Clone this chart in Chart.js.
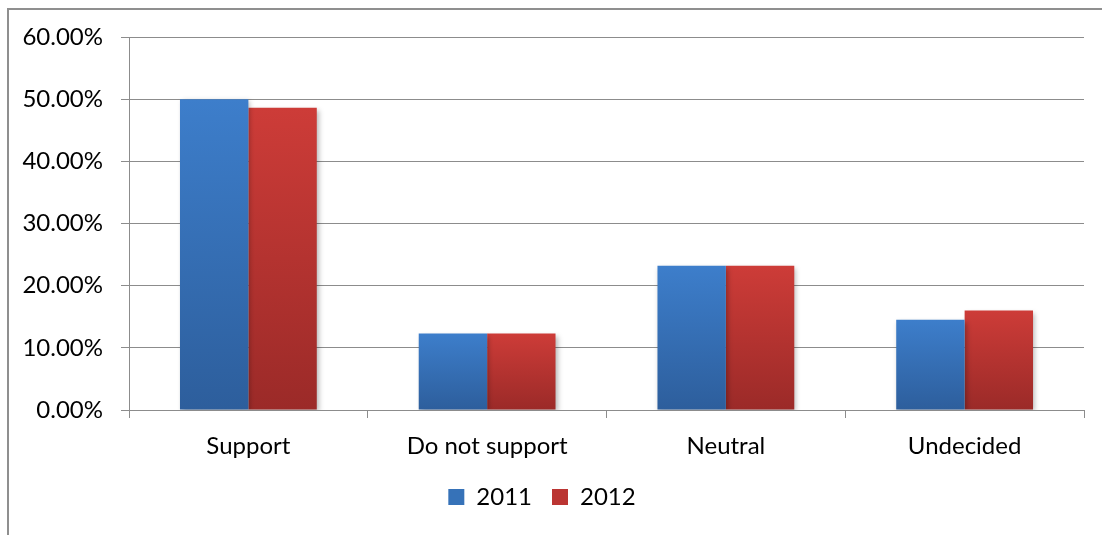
<!DOCTYPE html>
<html>
<head>
<meta charset="utf-8">
<script src="https://cdn.jsdelivr.net/npm/chart.js@4"></script>
<style>
  html, body { margin: 0; padding: 0; background: #fff; }
  #wrap { position: relative; width: 1102px; height: 535px; overflow: hidden; }
  #frame { position: absolute; left: 7px; top: 8px; width: 1200px; height: 600px;
           border-left: 2px solid #8f8f8f; border-top: 2px solid #8f8f8f; box-sizing: border-box; }
  canvas { position: absolute; left: 0; top: 0; }
</style>
</head>
<body>
<div id="wrap">
  <div id="frame"></div>
  <canvas id="chart" width="1102" height="535"></canvas>
</div>
<script>
const categories = ["Support", "Do not support", "Neutral", "Undecided"];
const values2011 = [50.0, 12.3, 23.2, 14.5];
const values2012 = [48.6, 12.3, 23.2, 16.0];
const yTicks = [0, 10, 20, 30, 40, 50, 60];

const FONT = "Lato";
const FSIZE = 24;
const LEGEND_BOTTOM = 16;

function barGradient(top, bottom) {
  return function (ctx) {
    const chart = ctx.chart;
    if (!chart.chartArea || ctx.raw == null) return top;
    const y = chart.scales.y;
    const y0 = y.getPixelForValue(ctx.raw);
    const y1 = y.getPixelForValue(0);
    const g = chart.ctx.createLinearGradient(0, y0, 0, y1);
    g.addColorStop(0, top);
    g.addColorStop(1, bottom);
    return g;
  };
}

const shadow = {
  id: "shadow",
  beforeDatasetsDraw(chart) {
    const c = chart.ctx;
    c.save();
    c.shadowColor = "rgba(0,0,0,0.28)";
    c.shadowBlur = 5;
    c.shadowOffsetX = 2;
    c.shadowOffsetY = 2;
  },
  afterDatasetsDraw(chart) {
    chart.ctx.restore();
  }
};

new Chart(document.getElementById("chart"), {
  type: "bar",
  data: {
    labels: categories,
    datasets: [
      {
        label: "2011",
        data: values2011,
        backgroundColor: barGradient("#3d7ecb", "#2d5e9c"),
        categoryPercentage: 0.573,
        barPercentage: 1.0,
        borderWidth: 0
      },
      {
        label: "2012",
        data: values2012,
        backgroundColor: barGradient("#cd3c38", "#9b2a28"),
        categoryPercentage: 0.573,
        barPercentage: 1.0,
        borderWidth: 0
      }
    ]
  },
  options: {
    responsive: false,
    animation: false,
    layout: { padding: { left: 0, right: 18, top: 37, bottom: LEGEND_BOTTOM } },
    plugins: {
      tooltip: { enabled: false },
      legend: {
        position: "bottom",
        labels: {
          color: "#000",
          font: { family: FONT, size: FSIZE },
          boxWidth: 16,
          boxHeight: 16,
          padding: 20,
          generateLabels(chart) {
            const fills = ["#3672b8", "#bb3532"];
            return chart.data.datasets.map((ds, i) => ({
              text: ds.label,
              fillStyle: fills[i],
              strokeStyle: fills[i],
              lineWidth: 0,
              hidden: false,
              datasetIndex: i,
              fontColor: "#000"
            }));
          }
        }
      }
    },
    scales: {
      x: {
        grid: {
          offset: true,
          drawOnChartArea: false,
          drawTicks: true,
          tickLength: 8,
          color: "#8c8c8c"
        },
        border: { display: true, color: "#8c8c8c" },
        ticks: {
          color: "#000",
          font: { family: FONT, size: FSIZE },
          padding: 14
        },
        afterFit(scale) {
          scale.height = 535 - 410 - scale.chart.legend.height - LEGEND_BOTTOM;
        }
      },
      y: {
        min: 0,
        max: 60,
        afterBuildTicks(scale) {
          scale.ticks = yTicks.map(v => ({ value: v }));
        },
        grid: {
          color: "#8c8c8c",
          tickLength: 8
        },
        border: { display: true, color: "#8c8c8c" },
        ticks: {
          color: "#000",
          font: { family: FONT, size: FSIZE },
          padding: 18,
          callback: v => v.toFixed(2) + "%"
        },
        afterFit(scale) {
          scale.width = 129;
        }
      }
    }
  },
  plugins: [shadow]
});
</script>
</body>
</html>
